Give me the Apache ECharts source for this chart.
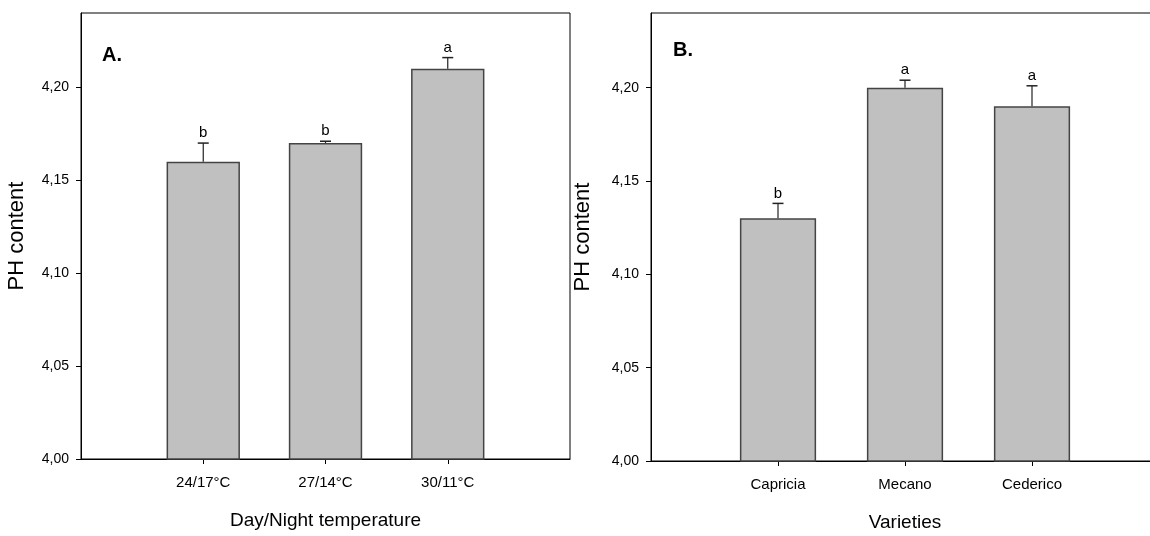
<!DOCTYPE html>
<html>
<head>
<meta charset="utf-8">
<title>PH content</title>
<script src="https://cdn.jsdelivr.net/npm/echarts@6/dist/echarts.min.js"></script>
<style>
  html, body { margin: 0; padding: 0; background: #ffffff; }
  #chart { width: 1150px; height: 536px; }
</style>
</head>
<body>
<div id="chart"></div>
<script>
// Panel A: day/night temperature regimes
const tempCategories = ['24/17°C', '27/14°C', '30/11°C'];
const tempPH = [4.160, 4.170, 4.210];
const tempErr = [0.010, 0.001, 0.006];
const tempLetters = ['b', 'b', 'a'];

// Panel B: varieties
const varietyCategories = ['Capricia', 'Mecano', 'Cederico'];
const varietyPH = [4.130, 4.200, 4.190];
const varietyErr = [0.008, 0.004, 0.011];
const varietyLetters = ['b', 'a', 'a'];

// Shared value axis
const phTicks = [4.00, 4.05, 4.10, 4.15, 4.20];
const phMin = 4.00;
const phMax = 4.24;

const font = "'Liberation Sans', Arial, sans-serif";

// Categories sit at 1..3 on a 0..4 span: pad both ends with blank slots
function padded(arr, fill) { return [fill].concat(arr, [fill]); }
const innerOnly = (i) => i > 0 && i < 4;

function xAxisFor(gridIndex, cats, title) {
  return {
    type: 'category',
    gridIndex: gridIndex,
    data: padded(cats, ''),
    boundaryGap: false,
    name: title,
    nameLocation: 'middle',
    nameGap: 52,
    nameTextStyle: { fontFamily: font, fontSize: 19, color: '#000' },
    axisLine: { show: true, lineStyle: { color: '#000', width: 1 } },
    axisTick: { show: true, interval: innerOnly, length: 5, lineStyle: { color: '#000', width: 1 } },
    axisLabel: { interval: innerOnly, margin: 16, fontFamily: font, fontSize: 15, color: '#000' },
    splitLine: { show: false }
  };
}

function yAxisFor(gridIndex, gap) {
  return {
    type: 'value',
    gridIndex: gridIndex,
    min: phMin,
    max: phMax,
    name: 'PH content',
    nameLocation: 'middle',
    nameRotate: 90,
    nameGap: gap,
    nameTextStyle: { fontFamily: font, fontSize: 22, color: '#000' },
    axisLine: { show: true, lineStyle: { color: '#000', width: 1 } },
    axisTick: { show: true, length: 5, customValues: phTicks, lineStyle: { color: '#000', width: 1 } },
    axisLabel: {
      customValues: phTicks,
      margin: 12,
      fontFamily: font,
      fontSize: 14,
      color: '#000',
      formatter: (v) => v.toFixed(2).replace('.', ',')
    },
    splitLine: { show: false }
  };
}

function barSeries(axisIndex, values) {
  return {
    type: 'bar',
    xAxisIndex: axisIndex,
    yAxisIndex: axisIndex,
    data: padded(values, '-'),
    barWidth: '60%',
    clip: true,
    silent: true,
    itemStyle: { color: '#c0c0c0', borderColor: '#444444', borderWidth: 1.5 },
    z: 2
  };
}

// Upper error whisker with cap, plus significance letter above it
function errorSeries(axisIndex, values, errs, letters) {
  const data = values.map((v, i) => [i + 1, v, v + errs[i], letters[i]]);
  return {
    type: 'custom',
    xAxisIndex: axisIndex,
    yAxisIndex: axisIndex,
    data: data,
    silent: true,
    z: 3,
    renderItem: function (params, api) {
      const x = api.value(0);
      const top = api.coord([x, api.value(1)]);
      const hi = api.coord([x, api.value(2)]);
      const letter = data[params.dataIndex][3];
      const capHalf = 5.5;
      return {
        type: 'group',
        children: [
          { type: 'line', shape: { x1: top[0], y1: top[1], x2: hi[0], y2: hi[1] },
            style: { stroke: '#222', lineWidth: 1.2 } },
          { type: 'line', shape: { x1: hi[0] - capHalf, y1: hi[1], x2: hi[0] + capHalf, y2: hi[1] },
            style: { stroke: '#222', lineWidth: 1.5 } },
          { type: 'text', x: hi[0], y: hi[1] - 10,
            style: { text: letter, align: 'center', verticalAlign: 'middle',
                     fontFamily: font, fontSize: 15, fill: '#000' } }
        ]
      };
    }
  };
}

const chart = echarts.init(document.getElementById('chart'), null, { renderer: 'canvas' });

chart.setOption({
  backgroundColor: '#ffffff',
  animation: false,
  title: [
    { text: 'A.', left: 102, top: 45, padding: 0,
      textStyle: { fontFamily: font, fontWeight: 'bold', fontSize: 20, color: '#000' } },
    { text: 'B.', left: 673, top: 40, padding: 0,
      textStyle: { fontFamily: font, fontWeight: 'bold', fontSize: 20, color: '#000' } }
  ],
  grid: [
    { left: 81, top: 13, width: 489, height: 446, outerBoundsMode: 'none',
      show: true, borderColor: '#000', borderWidth: 1, backgroundColor: 'transparent' },
    { left: 651, top: 13, width: 508, height: 448, outerBoundsMode: 'none',
      show: true, borderColor: '#000', borderWidth: 1, backgroundColor: 'transparent' }
  ],
  xAxis: [
    xAxisFor(0, tempCategories, 'Day/Night temperature'),
    xAxisFor(1, varietyCategories, 'Varieties')
  ],
  yAxis: [
    yAxisFor(0, 53),
    yAxisFor(1, 57)
  ],
  series: [
    barSeries(0, tempPH),
    errorSeries(0, tempPH, tempErr, tempLetters),
    barSeries(1, varietyPH),
    errorSeries(1, varietyPH, varietyErr, varietyLetters)
  ]
});
</script>
</body>
</html>
